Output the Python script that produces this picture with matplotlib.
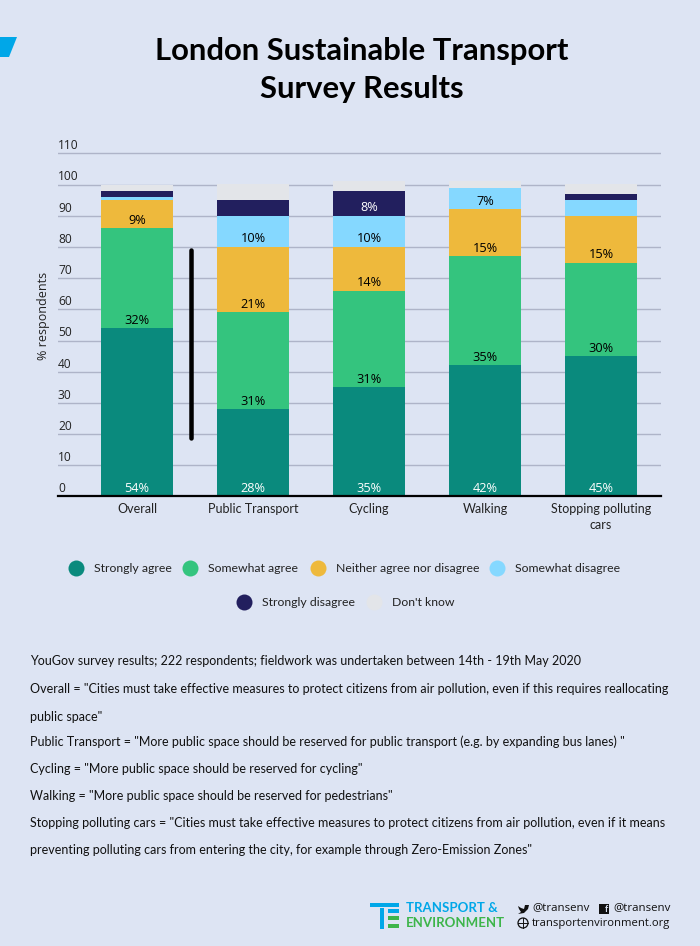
import matplotlib
matplotlib.use("Agg")
import matplotlib.pyplot as plt
from matplotlib.patches import Polygon, Rectangle, Circle
from matplotlib.lines import Line2D
from matplotlib.transforms import ScaledTranslation

BG = "#DDE4F3"
categories = ["Overall", "Public Transport", "Cycling", "Walking", "Stopping polluting\ncars"]
strongly_agree = [54, 28, 35, 42, 45]
somewhat_agree = [32, 31, 31, 35, 30]
neither = [9, 21, 14, 15, 15]
somewhat_disagree = [1, 10, 10, 7, 5]
strongly_disagree = [2, 5, 8, 0, 2]
dont_know = [2, 5, 3, 2, 3]
series_names = ["Strongly agree", "Somewhat agree", "Neither agree nor disagree",
                "Somewhat disagree", "Strongly disagree", "Don't know"]
series_values = [strongly_agree, somewhat_agree, neither, somewhat_disagree, strongly_disagree, dont_know]
series_colors = ["#0A8A7D", "#34C47E", "#EEB93C", "#85D8FF", "#221F5E", "#E3E5E9"]
label_colors = ["white", "black", "black", "black", "white", "black"]
y_ticks = list(range(0, 111, 10))
title_lines = "London Sustainable Transport\nSurvey Results"
notes = [
    'YouGov survey results; 222 respondents; fieldwork was undertaken between 14th - 19th May 2020',
    'Overall = "Cities must take effective measures to protect citizens from air pollution, even if this requires reallocating',
    'public space"',
    'Public Transport = "More public space should be reserved for public transport (e.g. by expanding bus lanes) "',
    'Cycling = "More public space should be reserved for cycling"',
    'Walking = "More public space should be reserved for pedestrians"',
    'Stopping polluting cars = "Cities must take effective measures to protect citizens from air pollution, even if it means',
    'preventing polluting cars from entering the city, for example through Zero-Emission Zones"',
]

W, H = 700, 946
FONT = "Lato"
LABEL_FONT = "Open Sans"
px = 0.72  # points per pixel at dpi 100

plt.rcParams["font.family"] = [FONT, "DejaVu Sans"]
fig = plt.figure(figsize=(W / 100, H / 100), dpi=100, facecolor=BG)

# plot axes, placed in pixels
base_y, unit = 496.5, 3.12
top_val = 112
ax_top = base_y - top_val * unit
ax = fig.add_axes([58 / W, 1 - base_y / H, (661 - 58) / W, (base_y - ax_top) / H])
ax.set_facecolor("none")
ax.set_ylim(0, top_val)
ax.set_xlim((58 - 137) / 116, (661 - 137) / 116)
ax.set_axisbelow(True)
ax.yaxis.grid(True, color="#AEB4C8", linewidth=1.0)
for s in ["top", "right", "left"]:
    ax.spines[s].set_visible(False)
ax.spines["bottom"].set_linewidth(1.6)
ax.spines["bottom"].set_color("black")
ax.set_yticks(y_ticks)
ax.set_yticklabels([str(t) for t in y_ticks], fontsize=12 * px, color="#222222",
                   family=LABEL_FONT, ha="left", va="bottom")
ax.tick_params(axis="y", length=0, pad=0)
lift = ScaledTranslation(0, 1.2 / 100, fig.dpi_scale_trans)
for lab in ax.get_yticklabels():
    lab.set_transform(lab.get_transform() + lift)
ax.set_xticks(range(len(categories)))
ax.set_xticklabels(categories, fontsize=12.5 * px, color="#222222", linespacing=1.45)
ax.tick_params(axis="x", length=0, pad=4.5)
ax.set_ylabel("% respondents", fontsize=12.5 * px, color="#222222", family=LABEL_FONT)
ax.yaxis.set_label_coords((50 - 58) / (661 - 58), (base_y - 316) / (base_y - ax_top))

bottoms = [0] * len(categories)
for vals, col, lc in zip(series_values, series_colors, label_colors):
    ax.bar(range(len(categories)), vals, width=72 / 116, bottom=bottoms, color=col, linewidth=0)
    for i, (v, b) in enumerate(zip(vals, bottoms)):
        if v >= 7:
            ax.annotate(f"{v}%", (i, b), xytext=(0, 8 * px), textcoords="offset points",
                        ha="center", va="center", fontsize=12.8 * px, color=lc, family=LABEL_FONT)
    bottoms = [b + v for b, v in zip(bottoms, vals)]

# overlay in pixel coordinates for the page furniture
ov = fig.add_axes([0, 0, 1, 1], zorder=5)
ov.set_xlim(0, W)
ov.set_ylim(H, 0)
ov.axis("off")
ov.patch.set_alpha(0)

ov.text(362, 70, title_lines, ha="center", va="center", fontsize=31 * px,
        fontweight="bold", color="black", linespacing=1.42)
ov.add_patch(Polygon([(0, 37), (17, 37), (9, 57), (0, 57)], closed=True, color="#00A7E8", lw=0))
ov.add_line(Line2D([191, 191], [250, 438], color="black", lw=4.5 * px, solid_capstyle="round"))

# legend
legend_pos = [(76, 568), (189.5, 568), (317.5, 568), (497, 568), (244, 602), (374, 602)]
for name, col, (lx, ly) in zip(series_names, series_colors, legend_pos):
    ov.add_line(Line2D([lx], [ly], marker="o", ms=16 * px, mfc=col, mec=col, mew=0, ls=""))
    ov.text(lx + 18, ly + 0.5, name, va="center", ha="left", fontsize=12.3 * px, color="#222222")

# notes
note_y = [660.5, 688.5, 716.5, 741.5, 768.5, 795.5, 822.5, 849.5]
for s, y in zip(notes, note_y):
    ov.text(30, y, s, va="center", ha="left", fontsize=12.5 * px, color="#111111")

# logo
BLUE, GREEN = "#00A7E8", "#3DB54A"
ov.add_patch(Rectangle((370, 903), 29, 3.5, color=BLUE, lw=0))
ov.add_patch(Rectangle((380, 908), 4, 21, color=BLUE, lw=0))
for yy in (909, 916, 924):
    ov.add_patch(Rectangle((388, yy), 11, 3.5, color=GREEN if yy > 909 else BLUE, lw=0))
ov.text(406, 908, "TRANSPORT &", fontsize=13.2 * px, fontweight="bold", color=BLUE, va="center", ha="left")
ov.text(406, 923, "ENVIRONMENT", fontsize=13.2 * px, fontweight="bold", color=GREEN, va="center", ha="left")
# social icons
ov.add_patch(Polygon([(518, 906), (521, 908), (524, 909), (525, 905), (529, 905), (528, 909),
                      (524, 913), (518, 914), (521, 912), (519, 909)], closed=True, color="#111111", lw=0))
ov.text(532, 908, "@transenv", fontsize=11.5 * px, color="#111111", va="center", ha="left", family=LABEL_FONT)
ov.add_patch(Rectangle((599, 904), 10, 10, color="#111111", lw=0))
ov.text(606, 909.5, "f", fontsize=9 * px, fontweight="bold", color=BG, va="center", ha="center")
ov.text(613, 908, "@transenv", fontsize=11.5 * px, color="#111111", va="center", ha="left", family=LABEL_FONT)
ov.add_patch(Circle((523, 923), 5, fill=False, ec="#111111", lw=0.9))
ov.add_line(Line2D([518, 528], [923, 923], color="#111111", lw=0.7))
ov.add_line(Line2D([523, 523], [918, 928], color="#111111", lw=0.7))
ov.text(532, 923, "transportenvironment.org", fontsize=11.2 * px, color="#111111", va="center", ha="left", family=LABEL_FONT)

fig.savefig("out.png", dpi=100, facecolor=BG)
